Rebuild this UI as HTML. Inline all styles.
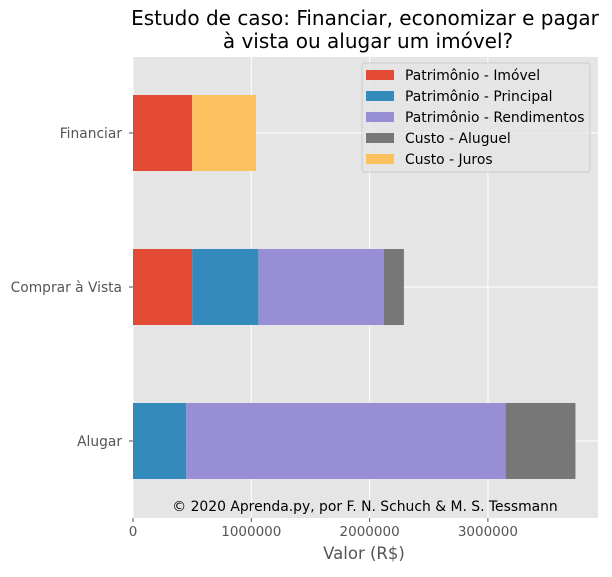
<!DOCTYPE html>
<html><head><meta charset="utf-8"><style>
body{margin:0;background:#fff;font-family:"Liberation Sans","DejaVu Sans",sans-serif}
</style></head><body>
<svg id="c" width="612" height="572" xmlns="http://www.w3.org/2000/svg" font-family="DejaVu Sans, Liberation Sans, sans-serif"></svg>
<script>
const categories=["Financiar","Comprar à Vista","Alugar"];
const seriesNames=["Patrimônio - Imóvel","Patrimônio - Principal","Patrimônio - Rendimentos","Custo - Aluguel","Custo - Juros"];
const imovel=[500000,500000,0];
const principal=[0,560000,450000];
const rendimentos=[0,1060000,2700000];
const aluguel=[0,170000,590000];
const juros=[540000,0,0];
const xTicks=[0,1000000,2000000,3000000];
const colors=["#E24A33","#348ABD","#988ED5","#777777","#FBC15E"];
const series=[imovel,principal,rendimentos,aluguel,juros];
const NS="http://www.w3.org/2000/svg";
const svg=document.getElementById('c');
const L=133,R=598,T=57,B=518;
const xs=v=>L+v*118.3/1000000;
const yc=i=>133+i*154;
function el(t,a,p){const e=document.createElementNS(NS,t);for(const k in a)e.setAttribute(k,a[k]);(p||svg).appendChild(e);return e;}
const bg=el('rect',{x:L,y:T,width:R-L,height:B-T,fill:'#E5E5E5'});


xTicks.forEach(v=>{const g=el('line',{x1:xs(v),x2:xs(v),y1:T,y2:B,stroke:'#fff','stroke-width':1});


const tk=el('line',{x1:xs(v),x2:xs(v),y1:B,y2:B+4,stroke:'#555'});


const t=el('text',{x:xs(v),y:B+18,'text-anchor':'middle','font-size':13.5,fill:'#555'});t.textContent=String(v);

});
categories.forEach((c,i)=>{const g=el('line',{x1:L,x2:R,y1:yc(i),y2:yc(i),stroke:'#fff'});


const tk=el('line',{x1:L-4,x2:L,y1:yc(i),y2:yc(i),stroke:'#555'});


const t=el('text',{x:L-11,y:yc(i)+5,'text-anchor':'end','font-size':13.8,fill:'#555'});t.textContent=c;


let acc=0;series.forEach((s,j)=>{const v=s[i];if(v>0){const r=el('rect',{x:xs(acc),y:yc(i)-38,width:xs(acc+v)-xs(acc),height:76,fill:colors[j]});

}acc+=v;});});
const lg=el('g',{});


el('rect',{x:362,y:63,width:228,height:109,rx:3,fill:'#E5E5E5',stroke:'#ccc','fill-opacity':0.8},lg);
seriesNames.forEach((n,j)=>{const y=75+j*21;
const p=el('rect',{x:366,y:y-5,width:28,height:10,fill:colors[j]},lg);


const t=el('text',{x:405,y:y+5,'font-size':13.9,fill:'#000'},lg);t.textContent=n;

});
const tt=el('text',{x:365,y:25,'text-anchor':'middle','font-size':20,fill:'#000'});tt.textContent='Estudo de caso: Financiar, economizar e pagar';


const t2=el('text',{x:368,y:48,'text-anchor':'middle','font-size':20,fill:'#000'});t2.textContent='à vista ou alugar um imóvel?';


const xl=el('text',{x:364,y:559,'text-anchor':'middle','font-size':16.5,fill:'#555'});xl.textContent='Valor (R$)';


const cp=el('text',{x:365,y:511,'text-anchor':'middle','font-size':13.9,fill:'#000'});cp.textContent='© 2020 Aprenda.py, por F. N. Schuch & M. S. Tessmann';


</script>
</body></html>
